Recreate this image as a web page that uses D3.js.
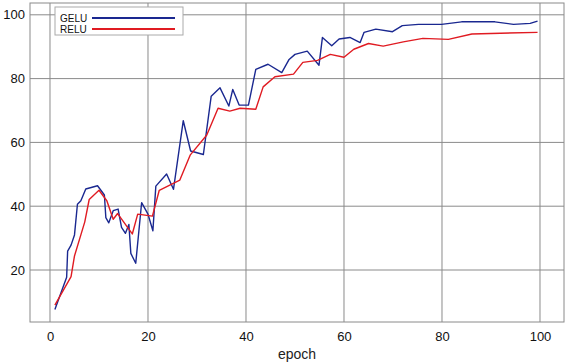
<!DOCTYPE html>
<html>
<head>
<meta charset="utf-8">
<script src="https://cdn.jsdelivr.net/npm/d3@7"></script>
<style>
  html, body { margin: 0; padding: 0; background: #fff; }
  svg { display: block; font-family: "Liberation Sans", Arial, sans-serif; }
</style>
</head>
<body>
<svg id="chart" width="566" height="364"></svg>
<script>
// epoch / accuracy values
var geluEpoch = [1, 3.4, 3.6, 4.3, 5.0, 5.6, 6.3, 7.3, 9.7, 11.1, 11.4, 12.0, 12.9, 13.9, 14.6, 15.4, 16.1, 16.5, 17.5, 18.7,
  20.0, 21.0, 21.6, 23.8, 25.2, 27.2, 28.7, 31.3, 32.9, 34.7, 36.5, 37.3, 38.6, 40.5, 42.0, 44.5, 47.3, 48.8, 50.0,
  52.5, 54.9, 55.6, 57.5, 59.0, 61.2, 63.3, 64.1, 66.5, 69.9, 71.9, 75.2, 79.9, 84.0, 90.8, 94.6, 98.0, 99.5];
var geluAcc = [7.6, 17.7, 25.9, 27.8, 31.0, 40.6, 41.7, 45.4, 46.4, 43.5, 36.4, 34.8, 38.6, 39.1, 33.4, 31.5, 34.3, 25.2, 22.1, 41.1,
  37.5, 32.3, 46.3, 50.1, 45.3, 66.8, 57.3, 56.2, 74.5, 77.1, 71.4, 76.6, 71.7, 71.7, 82.9, 84.5, 81.9, 86.0, 87.6,
  88.6, 84.2, 92.9, 90.3, 92.4, 92.9, 91.3, 94.5, 95.5, 94.7, 96.6, 97.0, 97.0, 97.8, 97.8, 97.0, 97.3, 98.0];

var reluEpoch = [1, 4.3, 5.0, 7.1, 8.0, 10.0, 11.6, 12.9, 13.8, 16.8, 17.9, 20.9, 22.3, 26.5, 28.6, 32.0, 34.3, 36.7, 38.8,
  42.0, 43.5, 45.9, 49.7, 51.6, 54.6, 57.2, 60.0, 62.0, 65.0, 68.0, 72.1, 76.1, 81.3, 86.1, 99.5];
var reluAcc = [9.0, 17.9, 24.4, 35.1, 42.1, 45.0, 41.7, 35.9, 37.7, 31.3, 37.5, 36.9, 45.0, 48.2, 56.0, 62.3, 70.7, 69.8, 70.7,
  70.4, 77.4, 80.6, 81.4, 85.1, 85.7, 87.6, 86.7, 89.2, 91.0, 90.2, 91.5, 92.6, 92.3, 94.0, 94.5];

var xTicks = [0, 20, 40, 60, 80, 100];
var yTicks = [20, 40, 60, 80, 100];

(function () {
  var series = [
    { name: 'GELU', x: geluEpoch, y: geluAcc, color: '#1a2890' },
    { name: 'RELU', x: reluEpoch, y: reluAcc, color: '#e01b22' }
  ];

  var svg = d3.select('#chart');
  var pl = 30, pr = 564, pt = 3, pb = 322;
  var gridColor = '#8a8a8a';

  var x = d3.scaleLinear().domain([-4.08, 104.9]).range([pl, pr]);
  var y = d3.scaleLinear().domain([3.7, 103.7]).range([pb, pt]);

  // grid
  svg.append('g').selectAll('line').data(xTicks).enter().append('line')
    .attr('x1', function (d) { return x(d); }).attr('x2', function (d) { return x(d); })
    .attr('y1', pt).attr('y2', pb)
    .attr('stroke', gridColor).attr('stroke-width', 1);
  svg.append('g').selectAll('line').data(yTicks).enter().append('line')
    .attr('x1', pl).attr('x2', pr)
    .attr('y1', function (d) { return y(d); }).attr('y2', function (d) { return y(d); })
    .attr('stroke', gridColor).attr('stroke-width', 1);

  // frame
  svg.append('rect').attr('x', pl).attr('y', pt)
    .attr('width', pr - pl).attr('height', pb - pt)
    .attr('fill', 'none').attr('stroke', gridColor).attr('stroke-width', 1);

  // tick labels (no tick marks)
  var xAxis = d3.axisBottom(x).tickValues(xTicks).tickSize(0).tickPadding(10);
  var gx = svg.append('g').attr('transform', 'translate(0,' + pb + ')').call(xAxis);
  gx.select('.domain').remove();
  gx.selectAll('text').style('font-size', '13px').style('fill', '#111')
    .style('font-family', '"Liberation Sans", Arial, sans-serif');

  var yAxis = d3.axisLeft(y).tickValues(yTicks).tickSize(0).tickPadding(5);
  var gy = svg.append('g').attr('transform', 'translate(' + pl + ',0)').call(yAxis);
  gy.select('.domain').remove();
  gy.selectAll('text').style('font-size', '13px').style('fill', '#111')
    .style('font-family', '"Liberation Sans", Arial, sans-serif');

  svg.append('text').attr('x', (pl + pr) / 2).attr('y', 359)
    .attr('text-anchor', 'middle').style('font-size', '14px').style('fill', '#222')
    .text('epoch');

  // lines
  var line = d3.line()
    .x(function (d) { return x(d[0]); })
    .y(function (d) { return y(d[1]); });

  series.forEach(function (s) {
    var pts = s.x.map(function (v, i) { return [v, s.y[i]]; });
    svg.append('path').datum(pts)
      .attr('d', line)
      .attr('fill', 'none')
      .attr('stroke', s.color)
      .attr('stroke-width', 1.4)
      .attr('stroke-linejoin', 'round');
  });

  // legend
  var lg = svg.append('g').attr('transform', 'translate(55,7)');
  lg.append('rect').attr('width', 128).attr('height', 28)
    .attr('fill', '#fff').attr('stroke', '#aaa').attr('stroke-width', 1);
  series.forEach(function (s, i) {
    var cy = 11 + i * 11;
    lg.append('text').attr('x', 5).attr('y', cy + 3.5)
      .style('font-size', '10px').style('fill', '#111').text(s.name);
    lg.append('line').attr('x1', 37).attr('x2', 120)
      .attr('y1', cy).attr('y2', cy)
      .attr('stroke', s.color).attr('stroke-width', 2);
  });
})();
</script>
</body>
</html>
